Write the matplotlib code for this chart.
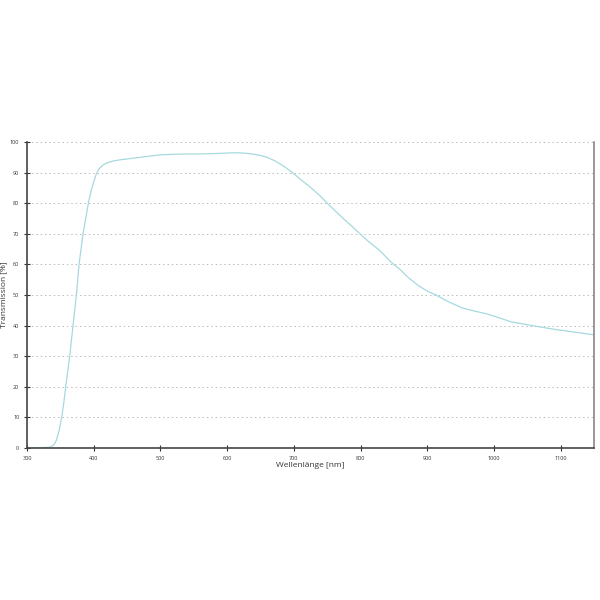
import matplotlib
matplotlib.use("Agg")
import matplotlib.pyplot as plt

plt.rcParams['font.family'] = ['Open Sans', 'DejaVu Sans']

# transmission curve
wavelength = [300, 320, 335, 340, 344, 348, 352, 355, 358, 361, 364, 369, 374, 378,
              384, 388, 392, 396, 400, 404, 408, 414, 420, 429, 440, 459, 480, 499,
              520, 539, 560, 580, 600, 611, 625, 640, 650, 660, 670, 680, 690, 698,
              710, 725, 740, 750, 762, 775, 787, 798, 812, 828, 847, 860, 870, 887,
              900, 913, 930, 952, 970, 990, 1010, 1026, 1050, 1071, 1090, 1110, 1130, 1150]
transmission = [0, 0, 0.3, 1.0, 2.5, 5.5, 10, 14.5, 20, 25, 30, 40, 50, 60,
                70, 75, 80, 84, 87, 89.6, 91.2, 92.5, 93.2, 93.8, 94.2, 94.7, 95.3, 95.8,
                96.0, 96.1, 96.1, 96.2, 96.4, 96.5, 96.4, 96.0, 95.6, 95.0, 94.0, 92.8, 91.3, 90,
                87.8, 85.2, 82.3, 80, 77.5, 74.8, 72.5, 70.2, 67.5, 64.7, 60.5, 58.2, 56, 53,
                51.3, 50, 48.0, 45.8, 44.8, 43.8, 42.4, 41.2, 40.3, 39.5, 38.8, 38.2, 37.6, 37.0]

x_ticks = [300, 400, 500, 600, 700, 800, 900, 1000, 1100]
y_ticks = [0, 10, 20, 30, 40, 50, 60, 70, 80, 90, 100]

fig = plt.figure(figsize=(6, 6), dpi=100)
ax = fig.add_axes([0.045, 0.2533, 0.945, 0.51])

ax.plot(wavelength, transmission, color='#a6d9dd', linewidth=0.9)

ax.set_xlim(300, 1150)
ax.set_ylim(0, 100)
ax.set_xticks(x_ticks)
ax.set_yticks(y_ticks)
ax.tick_params(axis='both', labelsize=4, colors='#333333', direction='inout', length=5, width=0.8, pad=3)

ax.yaxis.grid(True, linestyle=(0, (1.5, 3)), color='#bbbbbb', linewidth=0.7)
ax.set_axisbelow(True)

ax.spines['top'].set_visible(False)
ax.spines['left'].set_color('#444444')
ax.spines['bottom'].set_color('#444444')
ax.spines['right'].set_color('#888888')
for side in ['left', 'bottom', 'right']:
    ax.spines[side].set_linewidth(1.2)

ax.set_xlabel('Wellenlänge [nm]', fontsize=6, color='#333333', labelpad=1)
ax.set_ylabel('Transmission [%]', fontsize=6, color='#333333')
ax.yaxis.set_label_coords(-0.035, 0.5)

fig.savefig('out.png', dpi=100)
